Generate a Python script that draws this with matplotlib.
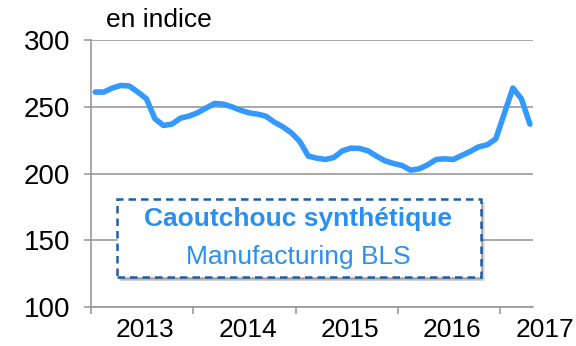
import matplotlib.pyplot as plt
import numpy as np
from matplotlib.patches import Rectangle

plt.rcParams['font.family'] = ['Liberation Sans', 'DejaVu Sans']

# monthly index, Jan 2013 - Apr 2017
years = [2013, 2014, 2015, 2016, 2017]
values = [261, 261, 264, 266, 265.5, 261, 256, 241, 236, 237, 241.5, 243,
          245.5, 249, 252.5, 252, 250, 247.5, 245.5, 244.5, 243, 238.5, 235, 230.5,
          224, 213, 211.5, 210.5, 212, 217, 219, 218.8, 217, 213, 209.5, 207.5,
          206, 202.5, 203.5, 206.5, 210.5, 211, 210.5, 213.5, 216.5, 220, 221.5, 226,
          245, 264, 256, 237]
title_main = "Caoutchouc synthétique"
title_sub = "Manufacturing BLS"

t = years[0] + (np.arange(len(values)) + 0.5) / 12

fig = plt.figure(figsize=(5.76, 3.46), dpi=100)
ax = fig.add_axes([0.158, 0.1127, 0.767, 0.7717])

grid_col = '#999999'
ax.plot(t, values, color='#3399ff', lw=4, solid_capstyle='round',
        solid_joinstyle='round', zorder=3)

ax.set_xlim(2013, 2017.32)
ax.set_ylim(100, 300)
ax.set_yticks([100, 150, 200, 250, 300])
ax.yaxis.grid(True, color=grid_col, lw=1.2)
ax.set_axisbelow(True)
ax.set_xticks(years)
ax.set_xticklabels([])
ax.tick_params(axis='both', colors=grid_col, length=5, width=1.2, labelsize=20,
               labelcolor='black')
ax.tick_params(axis='y', pad=10)
for s in ['top', 'right']:
    ax.spines[s].set_visible(False)
for s in ['left', 'bottom']:
    ax.spines[s].set_color(grid_col)
    ax.spines[s].set_linewidth(1.2)

# year labels sit between the tick marks; the last one is pushed against the edge
for y in years[:-1]:
    ax.text(y + 0.53, -0.04, str(y), transform=ax.get_xaxis_transform(),
            ha='center', va='top', fontsize=19, clip_on=False)
fig.text(0.997, 0.1127 - 0.04 * 0.7717, str(years[-1]), ha='right', va='top',
         fontsize=19)

fig.text(0.184, 0.942, "en indice", fontsize=19, va='center', ha='left')

# framed caption with a soft shadow
bx, by, bw, bh = 0.058, 0.112, 0.824, 0.2925
for k, a in enumerate([0.08, 0.1, 0.12, 0.15, 0.18]):
    off = 0.016 - k * 0.003
    ax.add_patch(Rectangle((bx + off * 0.6, by - off), bw, bh, transform=ax.transAxes,
                           facecolor='black', edgecolor='none', alpha=a, zorder=4))
ax.add_patch(Rectangle((bx, by), bw, bh, transform=ax.transAxes, facecolor='white',
                       edgecolor='#1f5fa6', lw=1.8, linestyle=(0, (3, 2)), zorder=5))
ax.text(0.469, 0.33, title_main, transform=ax.transAxes, ha='center', va='center',
        fontsize=19, fontweight='bold', color='#2b8ff0', zorder=6)
ax.text(0.469, 0.187, title_sub, transform=ax.transAxes, ha='center', va='center',
        fontsize=19, color='#2b8ff0', zorder=6)

fig.savefig('out.png', dpi=100)
